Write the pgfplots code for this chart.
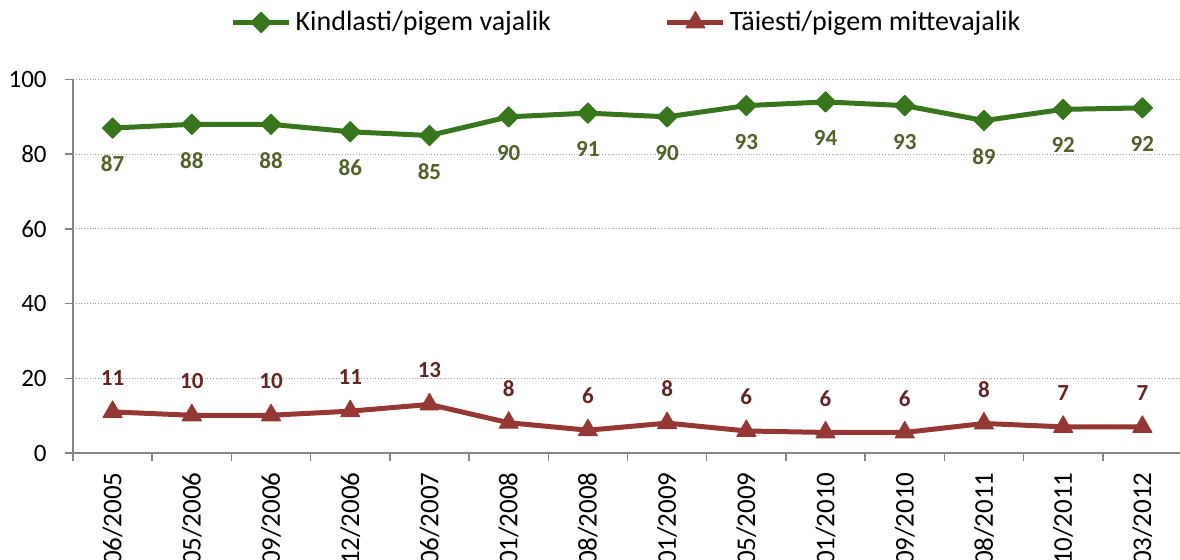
\documentclass[border=0pt]{standalone}
\usepackage{fontspec}
\setmainfont{Carlito}
\usepackage{pgfplots}
\pgfplotsset{compat=1.18}

\definecolor{grline}{RGB}{56,118,29}
\definecolor{grlab}{RGB}{79,98,40}
\definecolor{rdline}{RGB}{149,55,53}
\definecolor{rdlab}{RGB}{99,37,35}
\definecolor{axgray}{RGB}{134,134,134}

\newcommand{\tickfont}{\fontsize{12.5}{14}\selectfont}
\newcommand{\xfont}{\fontsize{13.5}{15}\selectfont}
\newcommand{\legfont}{\fontsize{14}{16}\selectfont}
\newcommand{\labfont}{\bfseries\fontsize{11.5}{13}\selectfont}

\begin{document}
\begin{tikzpicture}
\begin{axis}[
  name=ax,
  scale only axis,
  width=554.5pt, height=186.75pt,
  xmin=-0.5, xmax=13.5, ymin=0, ymax=100,
  xtick={-0.5,0.5,...,13.5},
  xticklabels={},
  extra x ticks={0,...,13},
  extra x tick labels={06/2005,05/2006,09/2006,12/2006,06/2007,01/2008,08/2008,01/2009,05/2009,01/2010,09/2010,08/2011,10/2011,03/2012},
  extra x tick style={major tick length=0pt, grid=none},
  xticklabel style={rotate=90, anchor=east, inner sep=0pt, font=\xfont},
  xticklabel shift=9.5pt,
  ytick={0,20,...,100},
  yticklabel style={inner sep=0pt, font=\tickfont},
  yticklabel shift=9pt,
  /pgf/number format/assume math mode=true,
  axis x line*=bottom, axis y line*=left,
  axis line style={axgray, line width=0.75pt, -},
  tick align=outside,
  major tick length=4pt,
  every tick/.style={axgray, line width=0.75pt},
  ymajorgrids,
  grid style={densely dotted, gray!80, line width=0.6pt},
  legend style={at={(0.5,1)}, anchor=center, yshift=28.5pt, draw=none, fill=none,
    font=\legfont, /tikz/every even column/.append style={column sep=55pt}},
  legend columns=2,
  legend image code/.code={\draw[mark repeat=2, mark phase=2] plot coordinates {(0pt,0pt) (14pt,0pt) (28pt,0pt)};},
  point meta=explicit symbolic,
  nodes near coords,
]
\addplot[grline, line width=2.5pt, line join=round, mark=square*, mark size=3.6pt,
  mark options={rotate=45, solid, line width=0.5pt},
  every node near coord/.style={font=\labfont, text=grlab, anchor=center, yshift=-18pt}]
  coordinates {
  (0,87) [87] (1,88) [88] (2,88) [88] (3,86) [86] (4,85) [85] (5,90) [90] (6,91) [91]
  (7,90) [90] (8,93) [93] (9,94) [94] (10,93) [93] (11,89) [89] (12,92) [92] (13,92.4) [92]
  };
\addlegendentry{Kindlasti/pigem vajalik}
\addplot[rdline, line width=2.5pt, line join=round, mark=triangle*, mark size=5.5pt,
  mark options={solid, line width=0.5pt},
  every node near coord/.style={font=\labfont, text=rdlab, anchor=center, yshift=17pt}]
  coordinates {
  (0,11) [11] (1,10.1) [10] (2,10.1) [10] (3,11.2) [11] (4,13) [13] (5,8.1) [8] (6,6.1) [6]
  (7,8) [8] (8,5.9) [6] (9,5.5) [6] (10,5.5) [6] (11,7.9) [8] (12,7) [7] (13,7) [7]
  };
\addlegendentry{Täiesti/pigem mittevajalik}
\end{axis}
\pgfresetboundingbox
\path[use as bounding box] (ax.south west) ++(-36.5pt,-53.5pt) rectangle ++(590pt,280pt);
\end{tikzpicture}
\end{document}
